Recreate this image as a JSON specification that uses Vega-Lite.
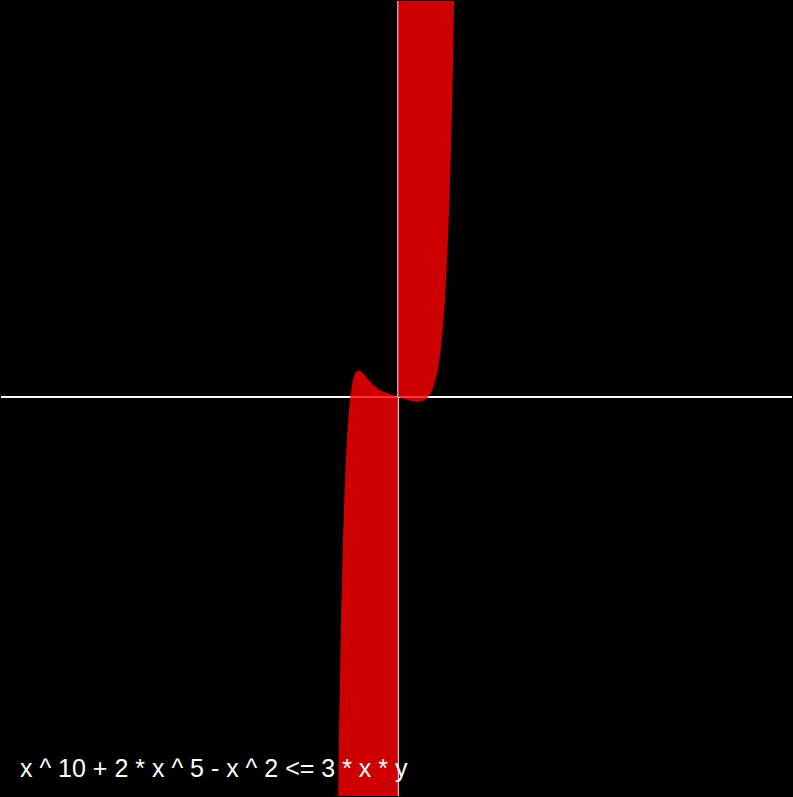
{
  "$schema": "https://vega.github.io/schema/vega-lite/v6.json",
  "width": 793,
  "height": 797,
  "autosize": {"type": "fit", "contains": "padding"},
  "padding": 0,
  "background": "#000000",
  "config": {"view": {"stroke": null}},
  "datasets": {
    "curve": [
      {"side": "L", "x": -1.55, "f": -12.849},
      {"side": "L", "x": -1.5, "f": -8.939},
      {"side": "L", "x": -1.45, "f": -6.014},
      {"side": "L", "x": -1.4, "f": -3.859},
      {"side": "L", "x": -1.35, "f": -2.3},
      {"side": "L", "x": -1.3, "f": -1.1974},
      {"side": "L", "x": -1.25, "f": -0.4393},
      {"side": "L", "x": -1.2, "f": 0.0625},
      {"side": "L", "x": -1.15, "f": 0.3738},
      {"side": "L", "x": -1.1, "f": 0.5568},
      {"side": "L", "x": -1.05, "f": 0.6458},
      {"side": "L", "x": -1.0, "f": 0.6667},
      {"side": "L", "x": -0.95, "f": 0.6459},
      {"side": "L", "x": -0.9, "f": 0.6083},
      {"side": "L", "x": -0.8, "f": 0.495},
      {"side": "L", "x": -0.7, "f": 0.38},
      {"side": "L", "x": -0.6, "f": 0.283},
      {"side": "L", "x": -0.5, "f": 0.2077},
      {"side": "L", "x": -0.4, "f": 0.1503},
      {"side": "L", "x": -0.3, "f": 0.1054},
      {"side": "L", "x": -0.2, "f": 0.0677},
      {"side": "L", "x": -0.1, "f": 0.0334},
      {"side": "L", "x": 0.0, "f": 0.0},
      {"side": "R", "x": 0.0, "f": 0.0},
      {"side": "R", "x": 0.1, "f": -0.0333},
      {"side": "R", "x": 0.2, "f": -0.0656},
      {"side": "R", "x": 0.3, "f": -0.0946},
      {"side": "R", "x": 0.4, "f": -0.1162},
      {"side": "R", "x": 0.5, "f": -0.1243},
      {"side": "R", "x": 0.6, "f": -0.1102},
      {"side": "R", "x": 0.7, "f": -0.0598},
      {"side": "R", "x": 0.8, "f": 0.0511},
      {"side": "R", "x": 0.9, "f": 0.2665},
      {"side": "R", "x": 1.0, "f": 0.6667},
      {"side": "R", "x": 1.05, "f": 0.9741},
      {"side": "R", "x": 1.1, "f": 1.3954},
      {"side": "R", "x": 1.15, "f": 1.9545},
      {"side": "R", "x": 1.2, "f": 2.7023},
      {"side": "R", "x": 1.25, "f": 3.6945},
      {"side": "R", "x": 1.3, "f": 5.0056},
      {"side": "R", "x": 1.35, "f": 6.729},
      {"side": "R", "x": 1.4, "f": 8.981},
      {"side": "R", "x": 1.45, "f": 11.908}
    ],
    "axes": [{"v": 0}],
    "label": [{"x": -9.56, "y": -9.56, "text": "x ^ 10 + 2 * x ^ 5 - x ^ 2 <= 3 * x * y"}]
  },
  "layer": [
    {
      "data": {"name": "axes"},
      "mark": {"type": "rule", "color": "#ffffff", "strokeWidth": 1.5},
      "encoding": {
        "x": {"field": "v", "type": "quantitative", "scale": {"domain": [-10.04, 9.96], "nice": false, "zero": false}, "axis": null}
      }
    },
    {
      "data": {"name": "axes"},
      "mark": {"type": "rule", "color": "#ffffff", "strokeWidth": 2},
      "encoding": {
        "y": {"field": "v", "type": "quantitative", "scale": {"domain": [-10.04, 9.96], "nice": false, "zero": false}, "axis": null}
      }
    },
    {
      "data": {"name": "curve"},
      "transform": [{"filter": "datum.side === 'R'"}],
      "mark": {"type": "area", "color": "#ff0000", "opacity": 0.8, "clip": true, "interpolate": "monotone"},
      "encoding": {
        "x": {"field": "x", "type": "quantitative"},
        "y": {"field": "f", "type": "quantitative"},
        "y2": {"datum": 12}
      }
    },
    {
      "data": {"name": "curve"},
      "transform": [{"filter": "datum.side === 'L'"}],
      "mark": {"type": "area", "color": "#ff0000", "opacity": 0.8, "clip": true, "interpolate": "monotone"},
      "encoding": {
        "x": {"field": "x", "type": "quantitative"},
        "y": {"field": "f", "type": "quantitative"},
        "y2": {"datum": -12}
      }
    },
    {
      "data": {"name": "label"},
      "mark": {"type": "text", "color": "#ffffff", "font": "Liberation Sans", "fontSize": 25, "align": "left", "baseline": "alphabetic"},
      "encoding": {
        "x": {"field": "x", "type": "quantitative"},
        "y": {"field": "y", "type": "quantitative"},
        "text": {"field": "text"}
      }
    }
  ]
}
